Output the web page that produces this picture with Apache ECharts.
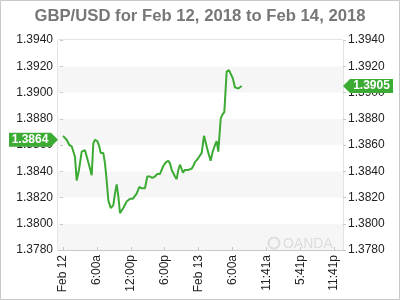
<!DOCTYPE html>
<html>
<head>
<meta charset="utf-8">
<script src="https://cdn.jsdelivr.net/npm/echarts@6/dist/echarts.min.js"></script>
<style>html,body{margin:0;padding:0;background:#fff}#c{width:400px;height:300px}</style>
</head>
<body>
<div id="c"></div>
<script>
// Hours since Feb 12 00:00 (one x label step = 6 hours)
var hours = [0, 0.65, 1.12, 1.54, 1.82, 2.12, 2.42, 2.83, 3.31, 3.89, 4.19, 4.66, 5.08, 5.36, 5.66, 6.07, 6.42, 6.67, 7.13, 7.43, 7.73, 8.02, 8.44, 8.9, 9.2, 9.5, 9.79, 10.09, 10.67, 11.27, 11.86, 12.34, 12.57, 13.04, 13.5, 13.93, 14.51, 14.92, 15.4, 15.8, 16.28, 16.69, 17.17, 17.47, 17.75, 18.23, 18.64, 18.94, 19.24, 19.82, 20.12, 20.41, 20.71, 21.24, 21.59, 22.12, 22.78, 23.06, 23.36, 23.77, 24.12, 24.55, 24.96, 25.31, 25.72, 26.14, 26.5, 26.9, 27.2, 27.49, 27.66, 27.91, 28.19, 28.55, 28.97, 29.38, 29.68, 30.04, 30.44, 30.62, 31.03, 31.63];
var rates = [1.3867, 1.3864, 1.3860, 1.3859, 1.3859, 1.3851, 1.3833, 1.3841, 1.3855, 1.3856, 1.3855, 1.3844, 1.3837, 1.3861, 1.3864, 1.3863, 1.3859, 1.3854, 1.3854, 1.3846, 1.3833, 1.3818, 1.3812, 1.3814, 1.3823, 1.3830, 1.3821, 1.3808, 1.3812, 1.3817, 1.3819, 1.3819, 1.3818, 1.3823, 1.3828, 1.3827, 1.3827, 1.3836, 1.3836, 1.3835, 1.3836, 1.3838, 1.3838, 1.3838, 1.3844, 1.3847, 1.3848, 1.3846, 1.3841, 1.3836, 1.3834, 1.3841, 1.3845, 1.3839, 1.3841, 1.3841, 1.3842, 1.3844, 1.3847, 1.3849, 1.3850, 1.3854, 1.3867, 1.3861, 1.3854, 1.3848, 1.3855, 1.3860, 1.3863, 1.3855, 1.3854, 1.3880, 1.3883, 1.3885, 1.3916, 1.3917, 1.3916, 1.3911, 1.3904, 1.3903, 1.3903, 1.3905];
var xTickHours = [0, 6, 12, 18, 24, 30, 36, 42, 48];
var xTickLabels = ['Feb 12', '6:00a', '12:00p', '6:00p', 'Feb 13', '6:00a', '11:41a', '5:41p', '11:41p'];
var yMin = 1.378, yMax = 1.394, yStep = 0.002;
var xMin = -0.885, xMax = 49.56;
var openRate = 1.3864, lastRate = 1.3905;
var titleText = 'GBP/USD for Feb 12, 2018 to Feb 14, 2018';

var green = '#3cab34';
var font = 'Liberation Sans, Arial, sans-serif';
var pts = hours.map(function (h, i) { return [h, rates[i]]; });

function yAxisCfg(pos, withArea) {
  return {
    type: 'value', position: pos, min: yMin, max: yMax, interval: yStep,
    axisLine: { show: false },
    axisTick: { show: true, length: 3, lineStyle: { color: '#c8c8c8' } },
    axisLabel: { margin: 5, color: '#222', fontSize: 12, fontFamily: font,
      formatter: function (v) { return v.toFixed(4); } },
    splitLine: { show: false },
    splitArea: { show: withArea, areaStyle: { color: ['#f6f6f6', '#ffffff'] } }
  };
}

var chart = echarts.init(document.getElementById('c'), null, { renderer: 'canvas' });
chart.setOption({
  animation: false,
  backgroundColor: '#fff',
  title: { text: titleText, left: 'center', top: 3,
    textStyle: { color: '#777', fontSize: 16.7, fontWeight: 'bold', fontFamily: font } },
  grid: { left: 58, right: 57, top: 40, bottom: 50, show: true, borderColor: '#c8c8c8', borderWidth: 1, backgroundColor: 'transparent' },
  xAxis: {
    type: 'value', min: xMin, max: xMax,
    axisLine: { show: true, lineStyle: { color: '#c8c8c8' } },
    axisTick: { show: true, inside: true, length: 3, customValues: xTickHours, lineStyle: { color: '#c8c8c8' } },
    axisLabel: { show: true, rotate: 90, margin: 5, color: '#222', fontSize: 12, fontFamily: font,
      customValues: xTickHours,
      formatter: function (v) { return xTickLabels[Math.round(v / 6)]; } },
    splitLine: { show: false }
  },
  yAxis: [yAxisCfg('left', true), yAxisCfg('right', false)],
  graphic: [
    { type: 'rect', shape: { x: 0.5, y: 0.5, width: 399, height: 299 }, style: { fill: 'none', stroke: '#c8c8c8', lineWidth: 1 }, z: 100 },
    { type: 'circle', shape: { cx: 274, cy: 243, r: 5.5 }, style: { fill: 'none', stroke: '#dcdcdc', lineWidth: 2 }, z: 1 },
    { type: 'text', left: 283, top: 237, style: { text: 'OANDA', fill: '#dcdcdc', font: '14px ' + font }, z: 1 }
  ],
  series: [{
    type: 'line', data: pts, showSymbol: false, symbol: 'none',
    lineStyle: { color: green, width: 2 }, z: 5,
    markPoint: {
      silent: true,
      data: [
        { coord: [xMin, openRate], symbol: 'path://M0,0 L42,0 L49,7 L42,14 L0,14 Z', symbolSize: [49, 14], symbolKeepAspect: false, symbolOffset: [-24.5, 0],
          itemStyle: { color: green },
          label: { show: true, position: 'inside', offset: [-3.5, 0], formatter: openRate.toFixed(4), color: '#fff', fontSize: 12, fontWeight: 'bold', fontFamily: font } },
        { coord: [xMax, lastRate], symbol: 'path://M7,0 L50,0 L50,14 L7,14 L0,7 Z', symbolSize: [50, 14], symbolKeepAspect: false, symbolOffset: [25, 0],
          itemStyle: { color: green },
          label: { show: true, position: 'inside', offset: [3.5, 0], formatter: lastRate.toFixed(4), color: '#fff', fontSize: 12, fontWeight: 'bold', fontFamily: font } }
      ]
    }
  }]
});
</script>
</body>
</html>
